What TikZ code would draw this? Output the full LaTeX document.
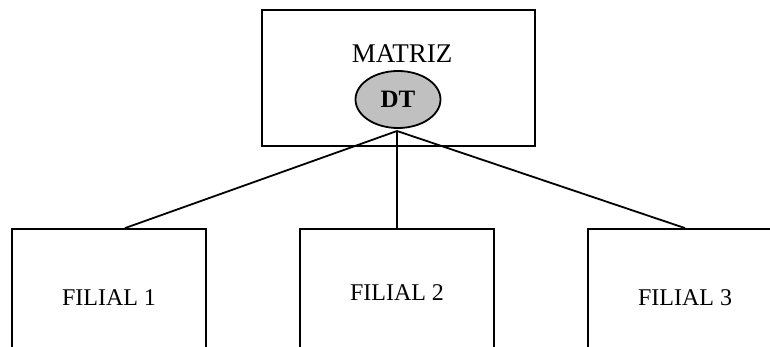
\documentclass[tikz,border=0pt]{standalone}
\usepackage{fontspec}
\setmainfont{Liberation Serif}
\usetikzlibrary{shapes.geometric}
\begin{document}
\begin{tikzpicture}[x=0.5pt,y=-0.5pt,
  box/.style={draw,line width=0.9pt,inner sep=0pt,font=\fontsize{12}{14}\selectfont},
  link/.style={line width=0.9pt}]
\definecolor{dtgray}{HTML}{C0C0C0}
\clip (0,0) rectangle (770,347);
\fill[white] (0,0) rectangle (770,347);
% head office with its unit
\node[box,minimum width=136.5pt,minimum height=68pt] (matriz) at (398.5,78) {};
\node[font=\fontsize{13.5}{16}\selectfont] (matrizlabel) at (402,54) {MATRIZ};
\node[box,ellipse,fill=dtgray,minimum width=42.5pt,minimum height=28.5pt,font=\fontsize{12.5}{14}\selectfont\bfseries] (dt) at (398,99.5) {DT};
\coordinate (hub) at (397,131);
% branches, cut off at the bottom
\node[box,minimum width=97pt,minimum height=69pt] (f1) at (109,298) {FILIAL 1\hspace{4pt}};
\node[box,minimum width=97pt,minimum height=64pt] (f2) at (397,293) {FILIAL 2\hspace{2pt}};
\node[box,minimum width=97pt,minimum height=69pt] (f3) at (685,298) {FILIAL 3\hspace{4pt}};
\draw[link] (hub) -- ([xshift=8pt]f1.north);
\draw[link] (hub) -- (f2.north);
\draw[link] (hub) -- (f3.north);
\end{tikzpicture}
\end{document}
